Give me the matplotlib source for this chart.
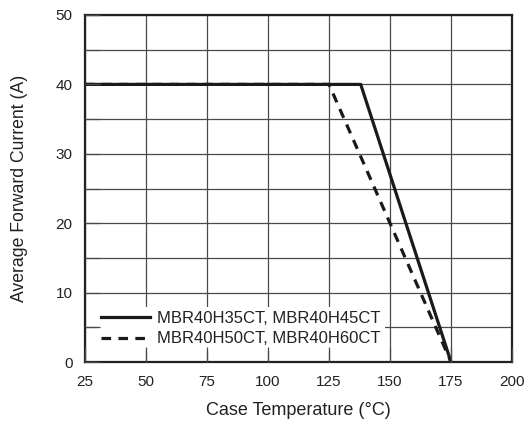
import matplotlib.pyplot as plt
import numpy as np

plt.rcParams['font.family'] = ['Liberation Sans', 'DejaVu Sans']

# derating curves (case temperature in degC, current in A)
temp_h35_h45 = [25, 138, 175]
curr_h35_h45 = [40, 40, 0]
temp_h50_h60 = [25, 125, 175]
curr_h50_h60 = [40, 40, 0]
labels = ['MBR40H35CT, MBR40H45CT', 'MBR40H50CT, MBR40H60CT']

x_ticks = [25, 50, 75, 100, 125, 150, 175, 200]
y_ticks = [0, 10, 20, 30, 40, 50]
y_grid = [0, 5, 10, 15, 20, 25, 30, 35, 40, 45, 50]

fig = plt.figure(figsize=(5.24, 4.21), dpi=100)
pos = [85 / 524, 1 - 362 / 421, 427 / 524, 347 / 421]
ax = fig.add_axes(pos)

ax.plot(temp_h50_h60, curr_h50_h60, color='#1a1a1a', lw=2.3, ls=(0, (3.0, 2.3)),
        label=labels[1], zorder=3)
ax.plot(temp_h35_h45, curr_h35_h45, color='#1a1a1a', lw=2.3, label=labels[0], zorder=4)

ax.set_xlim(25, 200)
ax.set_ylim(0, 50)
ax.set_xticks(x_ticks)
ax.set_yticks(y_ticks)
ax.set_yticks(y_grid, minor=True)
ax.grid(True, which='both', color='#4a4a4a', lw=0.9)
ax.tick_params(which='both', length=0, labelsize=11, colors='#222222')
ax.tick_params(axis='x', pad=9)
ax.tick_params(axis='y', pad=9)
for s in ax.spines.values():
    s.set_linewidth(1.6)
    s.set_color('#222222')
    s.set_zorder(6)

ax.set_xlabel('Case Temperature (°C)', fontsize=13, color='#222222', labelpad=10)
ax.set_ylabel('Average Forward Current (A)', fontsize=12.7, color='#222222', labelpad=20)

h, l = ax.get_legend_handles_labels()
leg = ax.legend(h[::-1], l[::-1], loc='lower left', bbox_to_anchor=(0.028, 0.033),
                frameon=True, fancybox=False, framealpha=1, facecolor='white',
                edgecolor='none', fontsize=12, handlelength=2.95, handletextpad=0.42,
                borderpad=0.25, labelspacing=0.32, borderaxespad=0)
for t in leg.get_texts():
    t.set_color('#222222')

# overlay axes only for the inward tick marks drawn over the legend
ax2 = fig.add_axes(pos, frameon=False)
ax2.patch.set_visible(False)
ax2.set_xlim(25, 200)
ax2.set_ylim(0, 50)
ax2.set_xticks(x_ticks)
ax2.set_yticks(y_grid)
ax2.tick_params(direction='in', length=11, width=0.9, color='#4a4a4a',
                labelbottom=False, labelleft=False)

fig.savefig('out.png', dpi=100)
